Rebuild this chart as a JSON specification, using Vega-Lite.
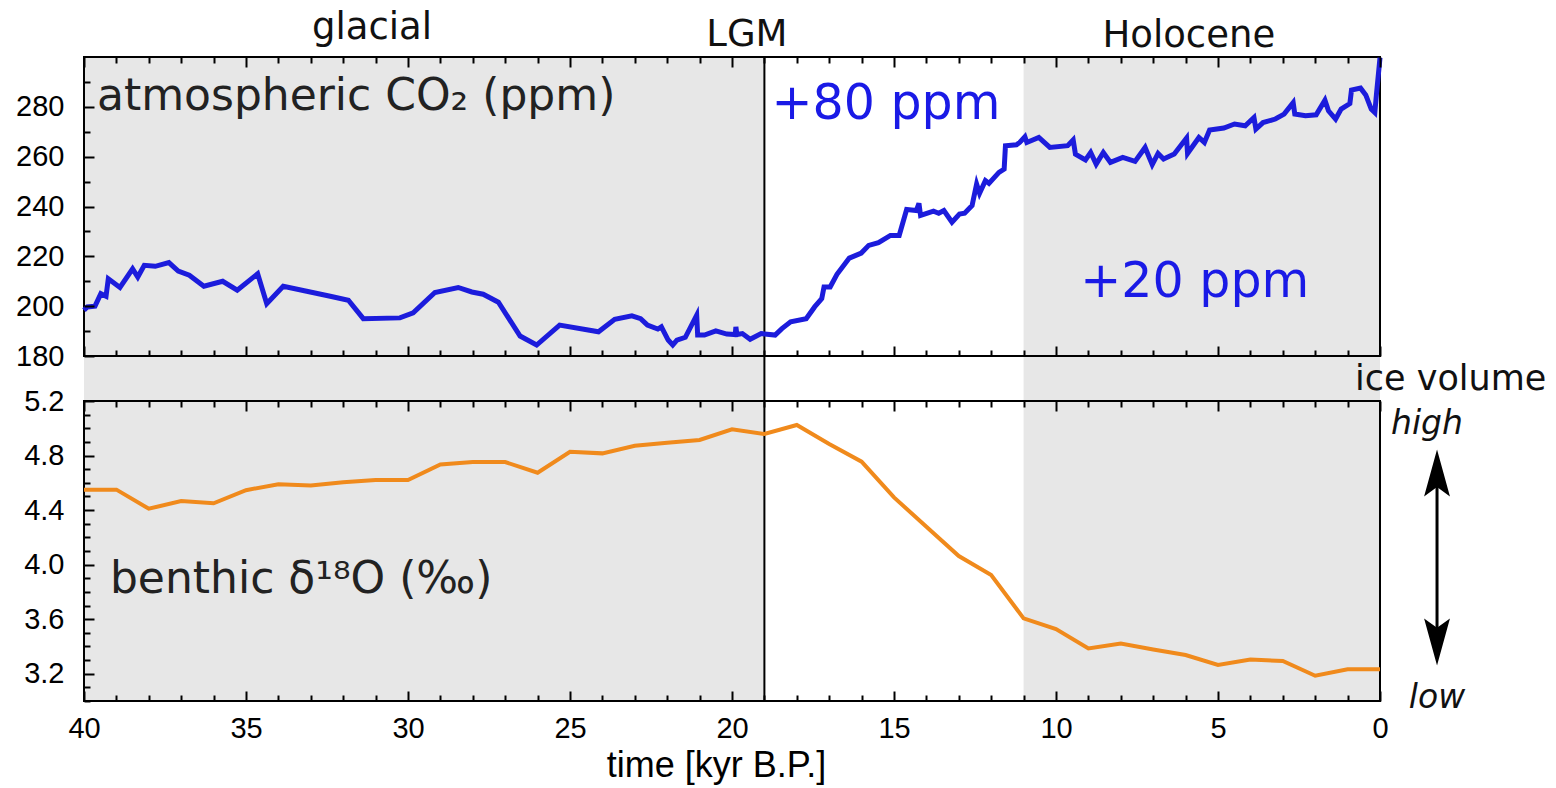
{
  "$schema": "https://vega.github.io/schema/vega-lite/v6.json",
  "autosize": "none",
  "width": 1296,
  "height": 644,
  "padding": {"left": 84, "top": 57, "right": 176, "bottom": 87},
  "background": "white",
  "config": {
    "view": {"stroke": null},
    "axis": {
      "domain": false,
      "grid": false,
      "tickColor": "black",
      "tickWidth": 2,
      "labelColor": "black",
      "labelFont": "Liberation Sans",
      "labelFontSize": 29,
      "titleFont": "Liberation Sans",
      "titleColor": "black",
      "titleFontWeight": "normal"
    }
  },
  "datasets": {
    "shades": [{"t0": 40, "t1": 19}, {"t0": 11, "t1": 0}],
    "lgm": [{"t": 19}],
    "one": [{}],
    "co2": [
      {"t": 40.0, "v": 198.4}, {"t": 39.9, "v": 199.7}, {"t": 39.66, "v": 200.0}, {"t": 39.48, "v": 205.0},
      {"t": 39.32, "v": 204.0}, {"t": 39.25, "v": 211.0}, {"t": 38.89, "v": 207.5}, {"t": 38.5, "v": 215.0},
      {"t": 38.34, "v": 211.7}, {"t": 38.14, "v": 216.4}, {"t": 37.8, "v": 216.0}, {"t": 37.38, "v": 217.5},
      {"t": 37.09, "v": 214.1}, {"t": 36.75, "v": 212.4}, {"t": 36.3, "v": 208.0}, {"t": 35.72, "v": 210.0},
      {"t": 35.27, "v": 206.4}, {"t": 34.64, "v": 213.0}, {"t": 34.36, "v": 201.0}, {"t": 33.85, "v": 208.0},
      {"t": 32.4, "v": 204.0}, {"t": 31.84, "v": 202.4}, {"t": 31.38, "v": 195.0}, {"t": 30.25, "v": 195.3},
      {"t": 29.84, "v": 197.3}, {"t": 29.17, "v": 205.5}, {"t": 28.45, "v": 207.5}, {"t": 28.03, "v": 205.7},
      {"t": 27.68, "v": 204.8}, {"t": 27.21, "v": 201.6}, {"t": 26.54, "v": 188.0}, {"t": 26.03, "v": 184.4},
      {"t": 25.32, "v": 192.4}, {"t": 24.12, "v": 189.7}, {"t": 23.62, "v": 194.7}, {"t": 23.09, "v": 196.1},
      {"t": 22.82, "v": 195.0}, {"t": 22.61, "v": 192.4}, {"t": 22.29, "v": 190.8}, {"t": 22.18, "v": 191.7},
      {"t": 21.97, "v": 186.4}, {"t": 21.83, "v": 184.4}, {"t": 21.7, "v": 186.4}, {"t": 21.44, "v": 187.5},
      {"t": 21.09, "v": 196.4}, {"t": 21.06, "v": 188.4}, {"t": 20.85, "v": 188.4}, {"t": 20.5, "v": 190.1},
      {"t": 20.16, "v": 188.8}, {"t": 19.9, "v": 188.6}, {"t": 19.88, "v": 191.7}, {"t": 19.85, "v": 188.6},
      {"t": 19.68, "v": 189.0}, {"t": 19.44, "v": 186.7}, {"t": 19.1, "v": 189.0}, {"t": 18.67, "v": 188.4},
      {"t": 18.46, "v": 191.0}, {"t": 18.19, "v": 193.7}, {"t": 17.71, "v": 195.0}, {"t": 17.45, "v": 199.7},
      {"t": 17.23, "v": 203.0}, {"t": 17.16, "v": 207.7}, {"t": 16.97, "v": 207.7}, {"t": 16.76, "v": 212.8},
      {"t": 16.38, "v": 219.3}, {"t": 16.01, "v": 221.3}, {"t": 15.78, "v": 224.4}, {"t": 15.48, "v": 225.5},
      {"t": 15.11, "v": 228.4}, {"t": 14.84, "v": 228.4}, {"t": 14.61, "v": 238.8}, {"t": 14.31, "v": 238.4},
      {"t": 14.23, "v": 241.3}, {"t": 14.18, "v": 236.4}, {"t": 13.78, "v": 238.1}, {"t": 13.62, "v": 237.3},
      {"t": 13.46, "v": 238.4}, {"t": 13.21, "v": 233.7}, {"t": 12.98, "v": 237.0}, {"t": 12.82, "v": 237.3},
      {"t": 12.59, "v": 240.4}, {"t": 12.45, "v": 249.0}, {"t": 12.36, "v": 245.3}, {"t": 12.18, "v": 250.4},
      {"t": 12.07, "v": 249.3}, {"t": 11.76, "v": 253.7}, {"t": 11.6, "v": 255.0}, {"t": 11.56, "v": 264.4},
      {"t": 11.22, "v": 264.8}, {"t": 11.12, "v": 265.7}, {"t": 10.96, "v": 268.0}, {"t": 10.9, "v": 265.7},
      {"t": 10.53, "v": 267.7}, {"t": 10.19, "v": 263.7}, {"t": 9.64, "v": 264.4}, {"t": 9.47, "v": 266.7},
      {"t": 9.4, "v": 261.0}, {"t": 9.09, "v": 258.7}, {"t": 8.93, "v": 261.7}, {"t": 8.76, "v": 257.0},
      {"t": 8.54, "v": 261.7}, {"t": 8.32, "v": 257.7}, {"t": 7.94, "v": 259.7}, {"t": 7.56, "v": 258.1},
      {"t": 7.25, "v": 263.7}, {"t": 7.03, "v": 256.8}, {"t": 6.85, "v": 261.3}, {"t": 6.68, "v": 259.1},
      {"t": 6.35, "v": 261.1}, {"t": 5.97, "v": 267.5}, {"t": 5.94, "v": 261.3}, {"t": 5.59, "v": 267.7},
      {"t": 5.42, "v": 265.7}, {"t": 5.26, "v": 270.7}, {"t": 4.82, "v": 271.5}, {"t": 4.49, "v": 273.1},
      {"t": 4.16, "v": 272.4}, {"t": 3.89, "v": 275.7}, {"t": 3.83, "v": 271.1}, {"t": 3.61, "v": 273.7},
      {"t": 3.23, "v": 275.1}, {"t": 2.96, "v": 277.1}, {"t": 2.68, "v": 281.7}, {"t": 2.63, "v": 277.1},
      {"t": 2.3, "v": 276.4}, {"t": 1.97, "v": 276.8}, {"t": 1.7, "v": 282.7}, {"t": 1.59, "v": 278.4},
      {"t": 1.37, "v": 275.1}, {"t": 1.2, "v": 279.1}, {"t": 0.93, "v": 281.3}, {"t": 0.88, "v": 286.7},
      {"t": 0.6, "v": 287.5}, {"t": 0.44, "v": 284.8}, {"t": 0.27, "v": 279.1}, {"t": 0.16, "v": 277.7},
      {"t": 0.11, "v": 285.0}, {"t": 0.0, "v": 299.7}
    ],
    "d18o": [
      {"t": 40, "v": 4.55}, {"t": 39, "v": 4.55}, {"t": 38, "v": 4.41}, {"t": 37, "v": 4.466},
      {"t": 36, "v": 4.45}, {"t": 35, "v": 4.546}, {"t": 34, "v": 4.59}, {"t": 33, "v": 4.58},
      {"t": 32, "v": 4.605}, {"t": 31, "v": 4.62}, {"t": 30, "v": 4.62}, {"t": 29, "v": 4.735},
      {"t": 28, "v": 4.752}, {"t": 27, "v": 4.752}, {"t": 26, "v": 4.674}, {"t": 25, "v": 4.828},
      {"t": 24, "v": 4.816}, {"t": 23, "v": 4.872}, {"t": 22, "v": 4.894}, {"t": 21, "v": 4.914},
      {"t": 20, "v": 4.992}, {"t": 19, "v": 4.958}, {"t": 18, "v": 5.024}, {"t": 17, "v": 4.885},
      {"t": 16, "v": 4.755}, {"t": 15, "v": 4.493}, {"t": 14, "v": 4.278}, {"t": 13, "v": 4.063},
      {"t": 12, "v": 3.924}, {"t": 11, "v": 3.606}, {"t": 10, "v": 3.528}, {"t": 9, "v": 3.386},
      {"t": 8, "v": 3.422}, {"t": 7, "v": 3.378}, {"t": 6, "v": 3.337}, {"t": 5, "v": 3.264},
      {"t": 4, "v": 3.305}, {"t": 3, "v": 3.293}, {"t": 2, "v": 3.185}, {"t": 1, "v": 3.232},
      {"t": 0, "v": 3.232}
    ],
    "labelsTop": [
      {"key": "atm", "text": "atmospheric CO₂ (ppm)", "t": 39.6, "v": 278.7},
      {"key": "p80", "text": "+80 ppm", "t": 18.78, "v": 275.2},
      {"key": "p20", "text": "+20 ppm", "t": 9.25, "v": 203.7},
      {"key": "glacial", "text": "glacial", "t": 31.11, "v": 307.2},
      {"key": "lgm", "text": "LGM", "t": 19.54, "v": 304.4},
      {"key": "holo", "text": "Holocene", "t": 5.9, "v": 304.0}
    ],
    "labelsBottom": [
      {"key": "benthic", "text": "benthic δ¹⁸O (‰)", "t": 39.2, "v": 3.792},
      {"key": "ice", "text": "ice volume", "t": 0.77, "v": 5.281},
      {"key": "high", "text": "high", "t": -1.45, "v": 4.958},
      {"key": "low", "text": "low", "t": -1.76, "v": 2.949}
    ],
    "arrowShaft": [{"t": -1.76, "v1": 4.75, "v2": 3.35}],
    "arrowHeads": [{"t": -1.76, "v": 4.672, "dir": "up"}, {"t": -1.76, "v": 3.433, "dir": "down"}]
  },
  "resolve": {"scale": {"y": "independent"}, "axis": {"x": "independent", "y": "independent"}},
  "layer": [
    {
      "data": {"name": "shades"},
      "mark": {"type": "rect", "color": "#e7e7e7"},
      "encoding": {
        "x": {"field": "t0", "type": "quantitative", "scale": {"domain": [40, 0], "nice": false}, "axis": null},
        "x2": {"field": "t1"}
      }
    },
    {
      "data": {"name": "lgm"},
      "mark": {"type": "rule", "color": "black", "strokeWidth": 2},
      "encoding": {
        "x": {"field": "t", "type": "quantitative", "scale": {"domain": [40, 0], "nice": false}, "axis": null}
      }
    },
    {
      "resolve": {"axis": {"x": "independent", "y": "independent"}},
      "layer": [
        {
          "data": {"name": "one"},
          "mark": {"type": "rect", "fillOpacity": 0, "stroke": "black", "strokeWidth": 2, "clip": false},
          "encoding": {
            "x": {"datum": 40, "type": "quantitative", "scale": {"domain": [40, 0], "nice": false},
              "axis": {"orient": "bottom", "offset": -345, "zindex": 1, "values": [0,1,2,3,4,5,6,7,8,9,10,11,12,13,14,15,16,17,18,19,20,21,22,23,24,25,26,27,28,29,30,31,32,33,34,35,36,37,38,39,40],
                "labels": false, "title": null,
                "tickSize": {"condition": {"test": "datum.value % 5 === 0", "value": -10}, "value": -6}}},
            "x2": {"datum": 0},
            "y": {"datum": 180, "type": "quantitative", "scale": {"domain": [41.54, 300], "nice": false, "zero": false}, "axis": null},
            "y2": {"datum": 300}
          }
        },
        {
          "data": {"name": "co2"},
          "mark": {"type": "line", "color": "#1c1cdc", "strokeWidth": 5, "clip": false},
          "encoding": {
            "x": {"field": "t", "type": "quantitative", "scale": {"domain": [40, 0], "nice": false},
              "axis": {"orient": "top", "zindex": 1, "values": [0,1,2,3,4,5,6,7,8,9,10,11,12,13,14,15,16,17,18,19,20,21,22,23,24,25,26,27,28,29,30,31,32,33,34,35,36,37,38,39,40],
                "labels": false, "title": null,
                "tickSize": {"condition": {"test": "datum.value % 5 === 0", "value": -10}, "value": -6}}},
            "y": {"field": "v", "type": "quantitative", "scale": {"domain": [41.54, 300], "nice": false, "zero": false},
              "axis": {"orient": "left", "zindex": 1, "values": [180,190,200,210,220,230,240,250,260,270,280,290],
                "format": "d", "labelExpr": "datum.value % 20 === 0 ? datum.label : ''",
                "labelPadding": 30, "labelOverlap": false, "title": null,
                "tickSize": {"condition": {"test": "datum.value % 20 === 0", "value": -10}, "value": -6}}}
          }
        },
        {
          "data": {"name": "labelsTop"},
          "transform": [{"filter": "datum.key === 'atm'"}],
          "mark": {"type": "text", "align": "left", "baseline": "alphabetic", "font": "DejaVu Sans", "fontSize": 44, "color": "#222222", "clip": false},
          "encoding": {
            "x": {"field": "t", "type": "quantitative", "scale": {"domain": [40, 0], "nice": false}, "axis": null},
            "y": {"field": "v", "type": "quantitative", "scale": {"domain": [41.54, 300], "nice": false, "zero": false}, "axis": null},
            "text": {"field": "text"}
          }
        },
        {
          "data": {"name": "labelsTop"},
          "transform": [{"filter": "datum.key === 'p80' || datum.key === 'p20'"}],
          "mark": {"type": "text", "align": "left", "baseline": "alphabetic", "font": "DejaVu Sans", "fontSize": 49, "color": "#1a1ae6", "clip": false},
          "encoding": {
            "x": {"field": "t", "type": "quantitative", "scale": {"domain": [40, 0], "nice": false}, "axis": null},
            "y": {"field": "v", "type": "quantitative", "scale": {"domain": [41.54, 300], "nice": false, "zero": false}, "axis": null},
            "text": {"field": "text"}
          }
        },
        {
          "data": {"name": "labelsTop"},
          "transform": [{"filter": "datum.key === 'glacial' || datum.key === 'lgm' || datum.key === 'holo'"}],
          "mark": {"type": "text", "align": "center", "baseline": "alphabetic", "font": "DejaVu Sans", "fontSize": 37, "color": "#111111", "clip": false},
          "encoding": {
            "x": {"field": "t", "type": "quantitative", "scale": {"domain": [40, 0], "nice": false}, "axis": null},
            "y": {"field": "v", "type": "quantitative", "scale": {"domain": [41.54, 300], "nice": false, "zero": false}, "axis": null},
            "text": {"field": "text"}
          }
        }
      ]
    },
    {
      "resolve": {"axis": {"x": "independent", "y": "independent"}},
      "layer": [
        {
          "data": {"name": "one"},
          "mark": {"type": "rect", "fillOpacity": 0, "stroke": "black", "strokeWidth": 2, "clip": false},
          "encoding": {
            "x": {"datum": 40, "type": "quantitative", "scale": {"domain": [40, 0], "nice": false},
              "axis": {"orient": "top", "offset": -344, "zindex": 1, "values": [0,1,2,3,4,5,6,7,8,9,10,11,12,13,14,15,16,17,18,19,20,21,22,23,24,25,26,27,28,29,30,31,32,33,34,35,36,37,38,39,40],
                "labels": false, "title": null,
                "tickSize": {"condition": {"test": "datum.value % 5 === 0", "value": -10}, "value": -6}}},
            "x2": {"datum": 0},
            "y": {"datum": 3.0, "type": "quantitative", "scale": {"domain": [3.0, 7.7227], "nice": false, "zero": false}, "axis": null},
            "y2": {"datum": 5.2}
          }
        },
        {
          "data": {"name": "d18o"},
          "mark": {"type": "line", "color": "#f08a1c", "strokeWidth": 4, "clip": false},
          "encoding": {
            "x": {"field": "t", "type": "quantitative", "scale": {"domain": [40, 0], "nice": false},
              "axis": {"orient": "bottom", "zindex": 1, "values": [0,1,2,3,4,5,6,7,8,9,10,11,12,13,14,15,16,17,18,19,20,21,22,23,24,25,26,27,28,29,30,31,32,33,34,35,36,37,38,39,40],
                "format": "d", "labelExpr": "datum.value % 5 === 0 ? datum.label : ''",
                "labelPadding": 23, "labelFlush": false, "labelOverlap": false,
                "title": "time [kyr B.P.]", "titleFontSize": 36, "titleX": 632, "titleY": 75,
                "titleBaseline": "alphabetic", "titleAlign": "center",
                "tickSize": {"condition": {"test": "datum.value % 5 === 0", "value": -10}, "value": -6}}},
            "y": {"field": "v", "type": "quantitative", "scale": {"domain": [3.0, 7.7227], "nice": false, "zero": false},
              "axis": {"orient": "left", "zindex": 1, "values": [3.0,3.1,3.2,3.3,3.4,3.5,3.6,3.7,3.8,3.9,4.0,4.1,4.2,4.3,4.4,4.5,4.6,4.7,4.8,4.9,5.0,5.1,5.2],
                "format": ".1f", "labelExpr": "round(datum.value * 10) % 4 === 0 ? datum.label : ''",
                "labelPadding": 30, "labelOverlap": false, "title": null,
                "tickSize": {"condition": {"test": "round(datum.value * 10) % 4 === 0", "value": -10}, "value": -6}}}
          }
        },
        {
          "data": {"name": "labelsBottom"},
          "transform": [{"filter": "datum.key === 'benthic'"}],
          "mark": {"type": "text", "align": "left", "baseline": "alphabetic", "font": "DejaVu Sans", "fontSize": 44, "color": "#222222", "clip": false},
          "encoding": {
            "x": {"field": "t", "type": "quantitative", "scale": {"domain": [40, 0], "nice": false}, "axis": null},
            "y": {"field": "v", "type": "quantitative", "scale": {"domain": [3.0, 7.7227], "nice": false, "zero": false}, "axis": null},
            "text": {"field": "text"}
          }
        },
        {
          "data": {"name": "labelsBottom"},
          "transform": [{"filter": "datum.key === 'ice'"}],
          "mark": {"type": "text", "align": "left", "baseline": "alphabetic", "font": "DejaVu Sans", "fontSize": 35, "color": "#111111", "clip": false},
          "encoding": {
            "x": {"field": "t", "type": "quantitative", "scale": {"domain": [40, 0], "nice": false}, "axis": null},
            "y": {"field": "v", "type": "quantitative", "scale": {"domain": [3.0, 7.7227], "nice": false, "zero": false}, "axis": null},
            "text": {"field": "text"}
          }
        },
        {
          "data": {"name": "labelsBottom"},
          "transform": [{"filter": "datum.key === 'high' || datum.key === 'low'"}],
          "mark": {"type": "text", "align": "center", "baseline": "alphabetic", "font": "DejaVu Sans", "fontSize": 33, "fontStyle": "italic", "color": "#111111", "clip": false},
          "encoding": {
            "x": {"field": "t", "type": "quantitative", "scale": {"domain": [40, 0], "nice": false}, "axis": null},
            "y": {"field": "v", "type": "quantitative", "scale": {"domain": [3.0, 7.7227], "nice": false, "zero": false}, "axis": null},
            "text": {"field": "text"}
          }
        },
        {
          "data": {"name": "arrowShaft"},
          "mark": {"type": "rule", "color": "black", "strokeWidth": 3, "clip": false},
          "encoding": {
            "x": {"field": "t", "type": "quantitative", "scale": {"domain": [40, 0], "nice": false}, "axis": null},
            "y": {"field": "v1", "type": "quantitative", "scale": {"domain": [3.0, 7.7227], "nice": false, "zero": false}, "axis": null},
            "y2": {"field": "v2"}
          }
        },
        {
          "data": {"name": "arrowHeads"},
          "mark": {"type": "point", "filled": true, "color": "black", "opacity": 1, "size": 2209, "clip": false},
          "encoding": {
            "x": {"field": "t", "type": "quantitative", "scale": {"domain": [40, 0], "nice": false}, "axis": null},
            "y": {"field": "v", "type": "quantitative", "scale": {"domain": [3.0, 7.7227], "nice": false, "zero": false}, "axis": null},
            "shape": {"field": "dir", "type": "nominal",
              "scale": {"domain": ["up", "down"], "range": ["M0,-1L0.55,1L0,0.6L-0.55,1Z", "M0,1L0.55,-1L0,-0.6L-0.55,-1Z"]},
              "legend": null}
          }
        }
      ]
    }
  ]
}
